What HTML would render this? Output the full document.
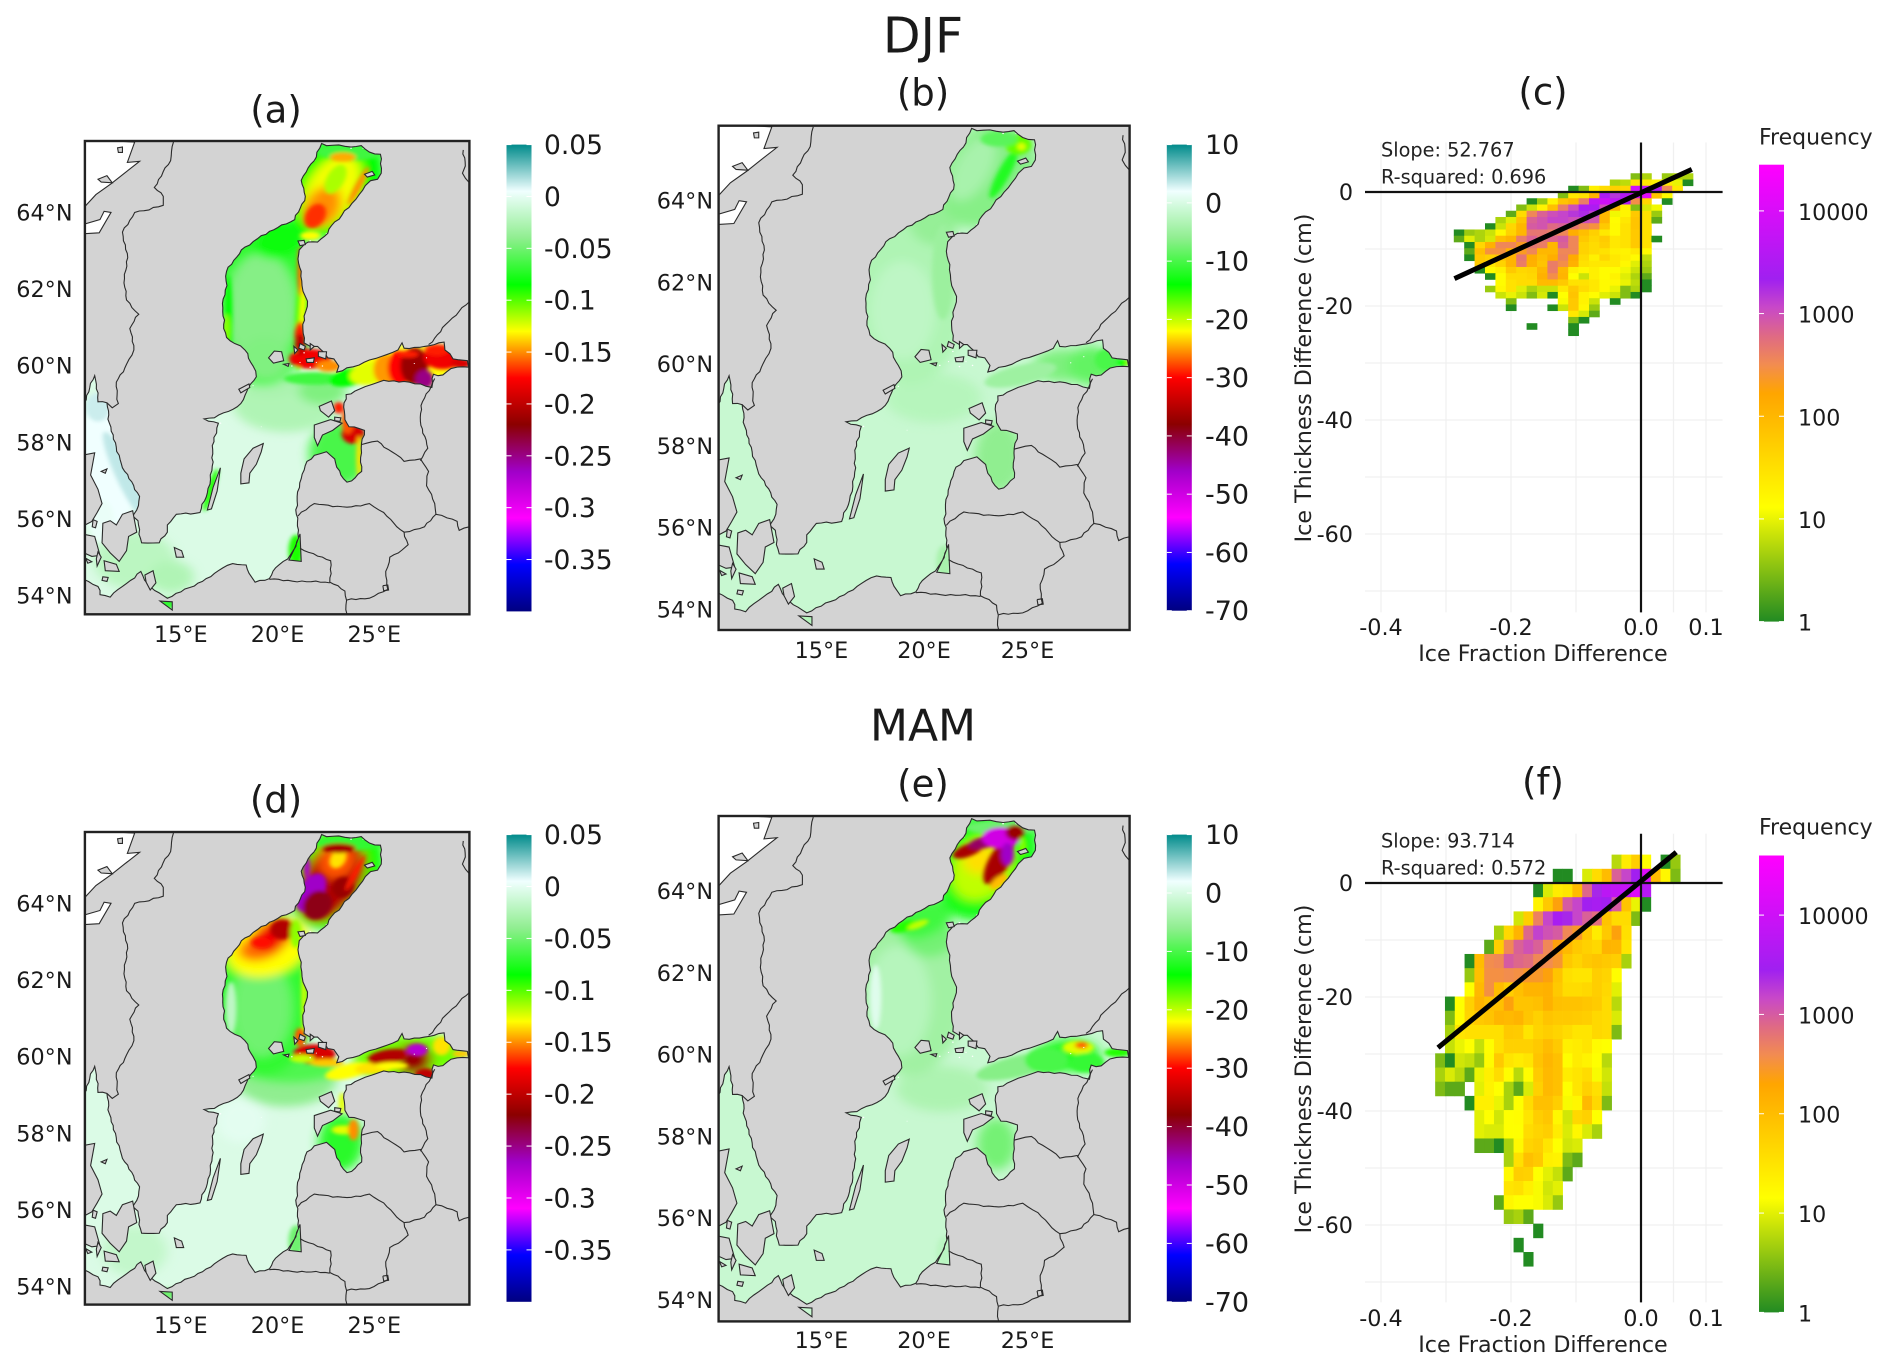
<!DOCTYPE html>
<html lang="en">
<head>
<meta charset="utf-8">
<title>Baltic sea ice differences DJF and MAM</title>
<style>
html,body{margin:0;padding:0;background:#fff;}
svg{display:block;}
text{font-family:"DejaVu Sans","Liberation Sans",sans-serif;fill:#1a1a1a;}
.panel{font-size:37px;text-anchor:middle;dominant-baseline:central;}
.axt{font-size:22.2px;text-anchor:middle;dominant-baseline:central;fill:#222;}
.ann{font-size:19.3px;dominant-baseline:central;fill:#222;}
.leg{font-size:22px;dominant-baseline:central;fill:#222;}
</style>
</head>
<body>
<svg id="figure" width="1892" height="1372" viewBox="0 0 1892 1372" xmlns="http://www.w3.org/2000/svg">
  <rect width="1892" height="1372" fill="#fff"/>
  <defs id="defs"></defs>
  <text x="923" y="36" font-size="49" text-anchor="middle" dominant-baseline="central">DJF</text>
  <text x="923" y="726" font-size="44" text-anchor="middle" dominant-baseline="central">MAM</text>
  <text class="panel" x="276" y="110">(a)</text>
  <text class="panel" x="923" y="93">(b)</text>
  <text class="panel" x="1543" y="92">(c)</text>
  <text class="panel" x="276" y="800">(d)</text>
  <text class="panel" x="923" y="784">(e)</text>
  <text class="panel" x="1543" y="782">(f)</text>
  <g id="maps"></g>
  <g id="hist-c"></g>
  <g id="hist-f"></g>
  <text class="axt" x="1543" y="654">Ice Fraction Difference</text>
  <text class="axt" x="1304" y="378" transform="rotate(-90 1304 378)">Ice Thickness Difference (cm)</text>
  <text class="ann" x="1381" y="150">Slope: 52.767</text>
  <text class="ann" x="1381" y="177">R-squared: 0.696</text>
  <text class="leg" x="1759" y="138">Frequency</text>
  <text class="axt" x="1543" y="1345">Ice Fraction Difference</text>
  <text class="axt" x="1304" y="1069" transform="rotate(-90 1304 1069)">Ice Thickness Difference (cm)</text>
  <text class="ann" x="1381" y="841">Slope: 93.714</text>
  <text class="ann" x="1381" y="868">R-squared: 0.572</text>
  <text class="leg" x="1759" y="828">Frequency</text>
</svg>
<script>
/* ---------- histogram data (panel c) ---------- */
const cFractionTicks = [-0.4, -0.2, 0.0, 0.1];
const cThicknessTicks = [0, -20, -40, -60];
const cFrequencyTicks = [1, 10, 100, 1000, 10000];
const cFirstThicknessBin = -3;
const cFirstFractionBin = [-1,-3,-7,-8,-11,-12,-13,-14,-15,-18,-18,-17,-17,-17,-16,-16,-15,-14,-15,-14,-13,-13,-7,-7,-11,-7];
const cCounts = [
[3,5,0,4,5,5],
[5,6,30,25,18,25,10,1],
[1,3,20,35,50,40,8000,5000,3000,350,25],
[3,25,30,110,3000,1500,3500,9000,12000,70,15],
[1,4,18,70,100,420,5000,7000,5000,3000,300,40,0,1],
[3,7,18,80,420,1000,3000,3000,1000,100,17,3,8,11],
[2,35,350,700,1000,1200,1500,1800,1300,100,11,17,60,30,4],
[5,9,70,700,900,1200,1200,1000,1000,900,100,14,25,70,30,2],
[1,7,40,100,800,900,600,700,480,350,280,60,15,30,70,30],
[1,4,5,7,16,45,100,480,480,420,350,130,80,50,25,15,30,60,30],
[2,9,5,8,80,110,420,700,480,650,800,350,60,40,55,25,30,60,30,1],
[1,40,120,350,350,220,480,420,100,700,350,45,35,50,25,30,60,30],
[2,80,280,280,120,220,350,100,100,350,350,45,35,30,20,18,25,15],
[1,60,50,70,110,480,130,80,130,380,140,35,20,40,25,20,15,6],
[60,25,45,110,420,120,70,420,300,120,30,25,25,25,16,9,5],
[1,14,20,60,40,45,100,420,100,20,16,20,14,14,11,7,4],
[1,14,35,35,40,120,300,110,13,7,20,14,18,9,5,2],
[14,30,35,35,90,90,60,30,30,25,15,16,10,6,1],
[4,16,30,9,5,7,7,25,60,35,25,15,10,3,5,1],
[7,10,7,3,8,1,13,70,18,14,9,7,3,1],
[3,0,0,0,0,12,60,18,7,0,1],
[1,0,0,0,1,7,60,16,4],
[25,8,2],
[3,1],
[1,0,0,0,1],
[1]
];
const cFitLine = [[-0.287,-15.2],[0.0782,3.97]];

/* ---------- histogram data (panel f) ---------- */
const fFirstThicknessBin = -2;
const fFirstFractionBin = [-3,-9,-11,-11,-13,-15,-16,-18,-18,-18,-20,-20,-20,-20,-21,-21,-21,-18,-17,-17,-17,-14,-14,-14,-15,-14,-11,-13,-12];
const fCounts = [
[6,25,60,15,0,1,4],
[1,1,0,9,40,100,900,1500,3000,15000,100,18,3],
[1,9,25,30,100,800,2500,6000,7000,8000,15000,5000],
[20,70,220,1000,1500,3000,3500,3000,1000,80,11,1],
[8,60,480,1500,3500,2500,1500,900,700,80,40,40,3],
[5,45,130,800,1600,1200,1000,420,280,70,25,70,220,35],
[2,60,420,900,1200,900,420,220,110,70,55,45,130,120,30],
[1,100,380,420,1000,800,700,420,380,300,70,50,70,80,70,60,5],
[4,90,350,350,380,350,280,280,220,80,35,30,30,60,50,15],
[14,110,350,100,60,90,130,130,140,70,40,40,45,60,45,10],
[1,14,55,130,90,90,220,80,80,90,140,90,85,85,75,65,40,6],
[3,15,50,70,80,120,110,130,75,55,80,70,70,65,60,45,40,9],
[5,30,35,35,35,35,70,65,30,50,60,50,40,30,30,45,40,3],
[7,11,14,7,15,35,55,55,55,70,100,70,22,25,30,16,14],
[3,1,8,7,4,16,70,30,25,30,80,120,90,15,25,20,14,6],
[5,9,6,2,11,22,40,15,6,15,65,110,90,25,30,40,13,8],
[3,2,2,0,10,20,14,5,2,9,55,110,90,14,30,55,35,7],
[1,22,22,11,5,14,40,90,90,60,13,18,110,45,3],
[10,14,8,14,15,30,60,75,18,8,45,55,14],
[10,9,9,14,14,40,50,60,25,9,18,9,5],
[2,2,1,5,17,50,60,30,14,8,9],
[5,35,90,70,22,20,3,2],
[17,60,55,14,10,7,2],
[30,35,22,13,8,10],
[2,18,14,14,13,9,4],
[4,5,2],
[1],
[1],
[1]
];
const fFitLine = [[-0.3123,-28.9],[0.0542,5.4]];
const fractionGrid = [-0.4,-0.3,-0.2,-0.1,0,0.05,0.1];
const thicknessGrid = [0,-10,-20,-30,-40,-50,-60,-70];
const frequencyColors = ["#228b22","#ffff00","#ffa500","#f28c50","#df6a84","#c848c8","#a020f0","#ff00ff"];
const frequencyOffsets = [0,0.25,0.5,0.5625,0.625,0.6875,0.75,1];

/* ---------- map colour scale and labels ---------- */
const mapColors = ["#008b8b","#f0ffff","#90ee90","#00ff00","#ffff00","#ff0000","#8b0000","#a000c8","#ff00ff","#0000ff","#000080"];
const fractionLabels = ["0.05","0","-0.05","-0.1","-0.15","-0.2","-0.25","-0.3","-0.35"];
const fractionValues = [0.05,0,-0.05,-0.1,-0.15,-0.2,-0.25,-0.3,-0.35];
const thicknessLabels = ["10","0","-10","-20","-30","-40","-50","-60","-70"];
const thicknessValues = [10,0,-10,-20,-30,-40,-50,-60,-70];
const latLabels = ["64°N","62°N","60°N","58°N","56°N","54°N"];
const lonLabels = ["15°E","20°E","25°E"];

/* ---------- map geometry, in shared map units ---------- */
const seaOutline = [[788,122],[800,128],[830,126],[860,132],[885,128],[905,146],[932,152],[934,205],[925,222],[908,226],[895,240],[880,265],[862,290],[838,322],[812,352],[795,382],[778,398],[755,398],[745,405],[733,420],[730,445],[738,480],[740,520],[748,550],[753,578],[745,605],[742,640],[745,680],[760,690],[778,690],[795,708],[803,722],[818,725],[830,745],[825,762],[850,750],[880,742],[905,728],[935,718],[975,700],[985,680],[990,695],[1040,690],[1075,680],[1088,678],[1090,700],[1110,725],[1145,730],[1148,748],[1120,748],[1105,752],[1085,770],[1062,768],[1058,805],[1030,795],[990,788],[940,785],[910,797],[880,810],[848,825],[842,860],[845,895],[855,915],[880,920],[893,925],[885,975],[886,1040],[870,1058],[850,1070],[835,1050],[820,1005],[800,985],[770,995],[752,1012],[738,1060],[728,1110],[726,1160],[730,1215],[725,1250],[705,1285],[675,1310],[660,1340],[625,1350],[610,1325],[603,1302],[570,1298],[535,1318],[505,1340],[465,1365],[410,1395],[390,1380],[362,1355],[345,1320],[320,1345],[300,1362],[270,1392],[245,1385],[240,1362],[205,1342],[205,850],[232,772],[240,845],[262,848],[268,905],[283,960],[300,1030],[342,1110],[335,1148],[325,1165],[338,1178],[347,1240],[390,1240],[410,1210],[410,1190],[432,1160],[490,1155],[508,1100],[520,1025],[524,945],[535,905],[500,893],[525,890],[560,872],[590,850],[605,815],[628,775],[620,745],[600,700],[575,682],[555,665],[548,640],[545,570],[556,520],[555,480],[580,440],[600,412],[640,380],[690,350],[722,335],[748,270],[738,225],[755,190],[775,160]];
const lagoons = [
[[735,1215],[738,1292],[708,1288],[722,1255]],
[[392,1403],[422,1405],[422,1428]]
];
const islands = [
[[200,995],[232,988],[222,1050],[240,1090],[250,1130],[238,1155],[225,1180],[200,1195]],
[[252,1185],[270,1178],[285,1190],[300,1160],[325,1150],[335,1210],[315,1222],[310,1262],[292,1292],[270,1268],[250,1240]],
[[200,1215],[232,1222],[245,1275],[225,1278],[200,1265]],
[[255,1290],[285,1300],[292,1320],[258,1318]],
[[228,1175],[238,1180],[234,1198],[226,1195]],
[[248,1040],[262,1033],[258,1045]],
[[252,1335],[265,1337],[262,1348],[250,1345]],
[[240,1265],[248,1280],[238,1305],[236,1285]],
[[210,1283],[225,1293],[215,1297]],
[[355,1330],[375,1318],[382,1352],[368,1372],[358,1350]],
[[427,1253],[445,1262],[450,1280],[432,1280]],
[[645,962],[620,975],[598,1005],[590,1045],[590,1075],[610,1072],[612,1045],[628,1020],[640,985]],
[[540,1030],[522,1085],[508,1148],[518,1145],[532,1095]],
[[770,910],[810,895],[838,905],[815,925],[790,938],[778,968],[770,945]],
[[782,858],[812,843],[820,870],[805,888],[785,870]],
[[820,888],[835,890],[833,900],[820,898]],
[[658,722],[672,703],[690,705],[695,730],[670,737]],
[[695,740],[708,738],[706,746]],
[[735,682],[748,690],[745,700],[732,695]],
[[760,682],[770,690],[760,700]],
[[780,705],[800,705],[798,725],[780,718]],
[[750,725],[770,722],[768,735],[752,735]],
[[720,690],[730,700],[722,710]],
[[893,208],[912,200],[918,210],[900,216]],
[[730,395],[745,393],[748,405],[735,408]],
[[585,810],[610,795],[612,805],[590,820]]
];
const whiteWaters = [
[[200,110],[330,118],[312,175],[342,172],[305,205],[272,235],[235,265],[205,302]],
[[200,375],[243,372],[272,315],[255,312],[245,335],[200,350]]
];
const whiteIslands = [
[[288,134],[300,132],[300,147],[290,147]],
[[240,222],[262,212],[275,232],[248,230]]
];
const borderLines = [
[[425,118],[418,170],[378,245],[400,270],[400,295],[365,308],[330,315],[300,370],[312,430],[305,500],[310,560],[340,600],[318,640],[328,700],[310,740],[285,790],[290,850],[275,862],[262,848]],
[[1150,565],[1100,620],[1050,685]],
[[1065,780],[1035,845],[1030,900],[1048,975],[1030,1010]],
[[885,965],[925,955],[960,985],[990,1012],[1030,1005],[1050,1040],[1045,1080],[1065,1130],[1068,1160]],
[[730,1165],[770,1130],[850,1140],[905,1130],[940,1155],[965,1185],[990,1210],[1040,1195],[1068,1160],[1095,1170],[1120,1180],[1125,1205],[1150,1195]],
[[990,1210],[1000,1245],[985,1260],[955,1280],[945,1320],[950,1370],[905,1395],[850,1400]],
[[735,1255],[790,1280],[810,1290],[808,1350],[845,1375],[850,1440]],
[[660,1342],[808,1352]],
[[1135,140],[1140,185],[1133,205],[1150,232]],
[[938,1360],[950,1358],[952,1372],[940,1374],[938,1360]]
];
const coastSpecks = [[745,708,1.8],[760,748,1.8],[790,745,1.8],[715,745,1.8],[735,735,1.5],[775,735,1.5],[820,122,2],[860,135,2],[890,135,1.8],[770,170,2],[760,395,2],[800,375,2],[620,800,1.6],[540,905,2],[640,915,1.2],[1015,738,1.5],[1045,722,1.5]];

/* ---------- field samples: [x, y, radius-x, radius-y, tilt, value] ---------- */
const fieldA = [
[265,1020,90,190,0,0.005],[305,1050,22,130,-22,0.014],[240,860,30,40,0,0.012],[250,1180,30,60,0,0.002],
[330,1290,100,80,0,-0.02],[420,1335,55,45,0,-0.025],
[700,850,130,80,0,-0.025],[660,790,70,45,0,-0.028],[790,815,60,38,0,-0.045],[770,780,75,18,0,-0.065],
[645,560,132,240,0,-0.07],[640,590,88,160,0,-0.043],[650,725,60,60,0,-0.045],[690,390,72,50,-30,-0.08],
[560,600,9,110,0,-0.085],[738,590,13,170,3,-0.1],[742,580,6,150,3,-0.13],[735,480,6,70,0,-0.16],[555,640,7,40,0,-0.11],[735,660,13,40,0,-0.17],
[825,240,105,155,25,-0.085],[860,145,85,25,0,-0.065],
[812,255,62,110,25,-0.128],[790,300,42,60,25,-0.15],[772,325,24,36,25,-0.167],[822,222,22,44,25,-0.115],
[840,160,32,13,0,-0.145],[878,240,8,60,25,-0.15],[760,380,25,12,0,-0.13],
[760,725,52,28,0,-0.18],[735,685,13,30,0,-0.2],[805,745,30,16,0,-0.15],
[1000,745,130,60,-5,-0.13],[860,775,55,25,-15,-0.085],[905,765,50,30,-15,-0.125],[945,755,30,42,0,-0.148],[978,750,28,48,0,-0.175],
[1015,745,34,52,0,-0.215],[1040,782,22,26,0,-0.25],[1085,720,48,34,0,-0.18],[1130,738,24,14,0,-0.19],[1070,700,30,16,0,-0.17],[1000,712,26,10,0,-0.17],
[832,990,75,90,0,-0.062],[865,935,28,28,0,-0.19],[852,900,15,35,0,-0.16],[880,1000,7,60,0,-0.135],[830,862,13,16,0,-0.17],
[516,1092,9,62,15,-0.09],[725,1262,18,45,0,-0.09],[410,1410,20,16,0,-0.07]
];
const fieldB = [
[700,830,110,65,0,-2.8],[645,560,130,235,0,-3.4],[630,600,75,130,0,-2.2],[722,500,25,125,0,-5],
[700,370,55,60,-30,-5.5],[825,240,100,150,25,-6.5],[790,228,42,90,25,-4],[862,240,14,72,25,-12],
[895,165,30,26,0,-17],[902,170,10,10,0,-21],[850,150,42,20,0,-9],
[900,770,85,26,-15,-4.8],[1000,745,70,42,0,-7],[1060,745,52,50,0,-8.5],[1100,730,30,30,0,-10],[1135,738,15,10,0,-14],[1146,738,7,5,0,-19],
[850,985,55,92,0,-6],[725,1262,18,45,0,-4],[410,1410,20,16,0,-3]
];
const fieldD = [
[330,1290,80,70,0,-0.016],[700,810,125,75,0,-0.04],[710,780,120,40,0,-0.06],[590,925,60,62,0,-0.001],
[645,560,132,240,0,-0.07],[640,610,75,135,0,-0.05],[566,610,13,75,0,-0.018],[745,560,6,130,0,-0.125],
[655,438,105,80,-25,-0.13],[640,438,58,36,-20,-0.155],[668,405,55,38,-30,-0.18],[692,388,30,28,0,-0.205],[640,425,24,15,0,-0.172],[725,400,14,40,0,-0.11],
[825,240,105,155,25,-0.088],[860,145,85,22,0,-0.07],
[812,250,72,125,25,-0.205],[826,195,44,52,25,-0.16],[828,190,19,28,25,-0.135],
[762,285,32,58,25,-0.265],[778,320,34,42,25,-0.225],[830,160,42,14,0,-0.21],[752,215,8,30,0,-0.27],[840,270,26,30,25,-0.215],[870,230,7,55,25,-0.17],
[770,738,52,28,0,-0.19],[735,690,13,26,0,-0.16],[800,762,42,11,0,-0.14],[740,750,30,11,0,-0.12],
[1000,745,135,62,-5,-0.105],[855,785,60,20,-15,-0.13],[920,775,50,18,-8,-0.135],[950,745,50,20,-10,-0.205],[1012,752,46,42,0,-0.215],
[1022,726,26,18,0,-0.275],[1042,795,26,18,0,-0.2],[1082,715,22,26,0,-0.135],[1130,737,22,9,0,-0.14],[960,770,40,10,0,-0.13],
[835,985,55,80,0,-0.072],[842,950,30,13,0,-0.125],[866,950,13,30,0,-0.15],[838,875,8,30,0,-0.125],
[725,1262,18,45,0,-0.05],[410,1410,20,16,0,-0.05]
];
const fieldE = [
[720,830,105,60,0,-3.6],[645,560,130,235,0,-4.6],[620,600,75,145,0,-2.8],[568,590,13,85,0,0.6],[690,430,60,55,0,-7.5],
[680,385,72,45,-30,-10.5],[632,405,32,13,-20,-15],[665,400,26,9,-25,-20],
[825,240,105,155,25,-13],[860,145,85,20,0,-8],[770,322,44,48,25,-13],
[812,250,66,90,25,-20],[805,228,38,40,0,-23],[850,235,24,65,25,-36],[780,205,38,16,-25,-36],[815,185,36,15,-15,-42],
[855,172,44,28,0,-50],[870,215,15,30,0,-46],[888,158,22,20,0,-37],[905,195,9,26,0,-18],[850,288,26,12,-45,-24],
[900,770,105,28,-15,-6.5],[960,755,50,34,0,-10],[1010,742,72,42,0,-12],[1032,722,36,18,0,-21],[1040,716,15,9,0,-27],[1052,762,40,26,0,-11],[1122,735,30,12,0,-15],
[845,975,45,68,0,-7.5],[725,1262,18,45,0,-2.5]
];

/* ---------- layout (pixels) ---------- */
const mapPanels = [
 {id:"a",x0:84.9,x1:469.4,y0:141,y1:614.3,field:fieldA,base:-0.005,kind:"f",barX:506.5,barW:25,barY0:144.6,barY1:611.4,labX:544,latX:72.5,latY0:213.6,latStep:76.55,lonX:[180.8,277.6,374.3],lonY:635},
 {id:"b",x0:718.6,x1:1129.6,y0:125.7,y1:630,field:fieldB,base:-1.3,kind:"t",barX:1166.8,barW:25,barY0:144.6,barY1:610.7,labX:1205,latX:713,latY0:201.5,latStep:81.8,lonX:[821.4,924,1027.5],lonY:651},
 {id:"d",x0:84.9,x1:469.4,y0:832,y1:1304.6,field:fieldD,base:-0.005,kind:"f",barX:506.5,barW:25,barY0:834.6,barY1:1301.8,labX:544,latX:72.5,latY0:904.6,latStep:76.55,lonX:[180.8,277.6,374.3],lonY:1326},
 {id:"e",x0:718.6,x1:1129.6,y0:816,y1:1321.4,field:fieldE,base:-1.3,kind:"t",barX:1166.8,barW:25,barY0:834.6,barY1:1301.8,labX:1205,latX:713,latY0:892,latStep:81.8,lonX:[821.4,924,1027.5],lonY:1341}
];
const NS = "http://www.w3.org/2000/svg";
function mk(tag, attrs, parent){
  const el = document.createElementNS(NS, tag);
  for (const k in attrs) el.setAttribute(k, attrs[k]);
  if (parent) parent.appendChild(el);
  return el;
}
function hex2rgb(h){return [1,3,5].map(i=>parseInt(h.substr(i,2),16));}
function mix(c0,c1,f){
  const a=hex2rgb(c0), b=hex2rgb(c1);
  return "rgb("+a.map((v,n)=>Math.round(v+(b[n]-v)*f)).join(",")+")";
}
function ramp(colors,t){
  t=Math.max(0,Math.min(1,t));
  const p=t*(colors.length-1), i=Math.min(colors.length-2,Math.floor(p));
  return mix(colors[i],colors[i+1],p-i);
}
function freqColor(t){
  t=Math.max(0,Math.min(1,t));
  let i=0;
  while(i<frequencyOffsets.length-2 && t>frequencyOffsets[i+1]) i++;
  return mix(frequencyColors[i],frequencyColors[i+1],(t-frequencyOffsets[i])/(frequencyOffsets[i+1]-frequencyOffsets[i]));
}
function mapColor(kind,v){
  return ramp(mapColors, kind==="f" ? (0.05-v)/0.45 : (10-v)/80);
}
/* roughen straight runs so coasts and borders read as natural lines */
function jag(poly,amp,closed){
  const out=[];
  const n=poly.length;
  const last=closed?n:n-1;
  for(let i=0;i<last;i++){
    const a=poly[i], b=poly[(i+1)%n];
    out.push(a);
    const dx=b[0]-a[0], dy=b[1]-a[1], L=Math.hypot(dx,dy);
    const steps=Math.floor(L/11);
    for(let j=1;j<steps;j++){
      const f=j/steps;
      const d=amp*Math.sin(a[0]*0.7+j*2.3)*Math.cos(a[1]*0.5+j*1.7);
      out.push([+(a[0]+dx*f-dy/L*d).toFixed(1),+(a[1]+dy*f+dx/L*d).toFixed(1)]);
    }
  }
  if(!closed) out.push(poly[n-1]);
  return out;
}
function pts(p){return p.map(q=>q.join(",")).join(" ");}
function pathOf(polys){return polys.map(p=>"M"+p.map(q=>q.join(",")).join("L")+"Z").join("");}

const defs = document.getElementById("defs");
const blur = mk("filter",{id:"fieldBlur",filterUnits:"userSpaceOnUse",x:150,y:60,width:1060,height:1440},defs);
mk("feGaussianBlur",{stdDeviation:5},blur);
const blurWide = mk("filter",{id:"fieldBlurWide",filterUnits:"userSpaceOnUse",x:150,y:60,width:1060,height:1440},defs);
mk("feGaussianBlur",{stdDeviation:13},blurWide);
const seaClip = mk("clipPath",{id:"seaClip"},defs);
const seaPath = pathOf([jag(seaOutline,3.2,true)].concat(lagoons));
mk("path",{d:seaPath},seaClip);
const roughBorders = borderLines.map(b=>jag(b,3,false));

const mapsRoot = document.getElementById("maps");
mapPanels.forEach(function(P){
  const root = mk("g",{},mapsRoot);
  
  
  const frameClip = mk("clipPath",{id:"frame"+P.id},defs);
  mk("rect",{x:P.x0,y:P.y0,width:P.x1-P.x0,height:P.y1-P.y0},frameClip);
  const clipG = mk("g",{"clip-path":"url(#frame"+P.id+")"},root);
  const land = mk("rect",{x:P.x0,y:P.y0,width:P.x1-P.x0,height:P.y1-P.y0,fill:"#d3d3d3"},clipG);
  
  
  const sx=(P.x1-P.x0)/942, sy=(P.y1-P.y0)/1325;
  const g = mk("g",{transform:"translate("+P.x0+","+P.y0+") scale("+sx+","+sy+") translate(-208,-115)"},clipG);
  whiteWaters.forEach(function(w){
    const el = mk("polygon",{points:pts(w),fill:"#fff",stroke:"#2b2b2b","stroke-width":1.1,"vector-effect":"non-scaling-stroke"},g);
    
    
  });
  whiteIslands.forEach(function(w){
    mk("polygon",{points:pts(w),fill:"#d3d3d3",stroke:"#2b2b2b","stroke-width":1.1,"vector-effect":"non-scaling-stroke"},g);
  });
  const seaG = mk("g",{"clip-path":"url(#seaClip)"},g);
  
  
  mk("rect",{x:150,y:60,width:1060,height:1440,fill:mapColor(P.kind,P.base)},seaG);
  const wideG = mk("g",{filter:"url(#fieldBlurWide)"},seaG);
  const fieldG = mk("g",{filter:"url(#fieldBlur)"},seaG);
  P.field.forEach(function(s){
    const target = Math.min(s[2],s[3])>=35 ? wideG : fieldG;
    mk("ellipse",{cx:0,cy:0,rx:s[2],ry:s[3],fill:mapColor(P.kind,s[5]),
      transform:"translate("+s[0]+","+s[1]+") rotate("+s[4]+")"},target);
  });
  coastSpecks.forEach(function(c){
    mk("circle",{cx:c[0],cy:c[1],r:c[2],fill:"#fff"},seaG);
  });
  const coast = mk("path",{d:seaPath,fill:"none",stroke:"#2b2b2b","stroke-width":1.1,"vector-effect":"non-scaling-stroke"},g);
  
  
  islands.forEach(function(w){
    mk("polygon",{points:pts(w),fill:"#d3d3d3",stroke:"#2b2b2b","stroke-width":1.1,"vector-effect":"non-scaling-stroke"},g);
  });
  roughBorders.forEach(function(w){
    const el = mk("polyline",{points:pts(w),fill:"none",stroke:"#2b2b2b","stroke-width":1.1,"vector-effect":"non-scaling-stroke"},g);
    
    
  });
  const frame = mk("rect",{x:P.x0,y:P.y0,width:P.x1-P.x0,height:P.y1-P.y0,fill:"none",stroke:"#222",
    "stroke-width":2.4},root);
  
  
  latLabels.forEach(function(t,i){
    const el = mk("text",{x:P.latX,y:P.latY0+i*P.latStep,"text-anchor":"end","dominant-baseline":"central","font-size":22.3,fill:"#222"},root);
    el.textContent=t;
    
    
  });
  lonLabels.forEach(function(t,i){
    const el = mk("text",{x:P.lonX[i],y:P.lonY,"text-anchor":"middle","dominant-baseline":"central","font-size":22.3,fill:"#222"},root);
    el.textContent=t;
    
    
  });
  /* colour bar */
  const gid="mapBar"+P.id;
  const grad = mk("linearGradient",{id:gid,x1:0,y1:0,x2:0,y2:1},defs);
  mapColors.forEach(function(c,i){
    mk("stop",{offset:i/(mapColors.length-1),"stop-color":c},grad);
  });
  const bar = mk("rect",{x:P.barX,y:P.barY0,width:P.barW,height:P.barY1-P.barY0,fill:"url(#"+gid+")"},root);
  
  
  const vals = P.kind==="f"?fractionValues:thicknessValues;
  const labs = P.kind==="f"?fractionLabels:thicknessLabels;
  const span = P.kind==="f"?0.45:80, top = P.kind==="f"?0.05:10;
  vals.forEach(function(v,i){
    const y=P.barY0+(top-v)/span*(P.barY1-P.barY0);
    mk("line",{x1:P.barX,x2:P.barX+5,y1:y,y2:y,stroke:"#fff","stroke-width":1},root);
    mk("line",{x1:P.barX+P.barW-5,x2:P.barX+P.barW,y1:y,y2:y,stroke:"#fff","stroke-width":1},root);
    const el = mk("text",{x:P.labX,y:y+1,"dominant-baseline":"central","font-size":P.kind==="f"?26.5:27,fill:"#111"},root);
    el.textContent=labs[i];
    
    
  });
});

/* ---------- histograms ---------- */
function drawHist(cfg){
  const root=document.getElementById(cfg.root);
  const xS=v=>cfg.x0+650*v, yS=v=>cfg.y0-5.7*v;
  const gridG=mk("g",{},root);
  
  
  fractionGrid.forEach(function(v){
    mk("line",{x1:xS(v),x2:xS(v),y1:cfg.top,y2:cfg.bottom,stroke:"#f0f0f0","stroke-width":1.3},gridG);
  });
  thicknessGrid.forEach(function(v){
    mk("line",{x1:cfg.left,x2:cfg.right,y1:yS(v),y2:yS(v),stroke:"#f0f0f0","stroke-width":1.3},gridG);
  });
  const cells=mk("g",{},root);
  
  
  cfg.counts.forEach(function(row,ri){
    const r=cfg.firstRow+ri;
    row.forEach(function(n,ci){
      if(!n) return;
      const k=cfg.firstCols[ri]+ci;
      const rect=mk("rect",{x:xS(k*cfg.binX),y:yS(-r*cfg.binY),width:650*cfg.binX+0.35,height:5.7*cfg.binY+0.35,
        fill:freqColor(Math.log10(n)/cfg.logMax)},cells);
      
      
    });
  });
  const v=mk("line",{x1:xS(0),x2:xS(0),y1:cfg.top,y2:cfg.bottom,stroke:"#111","stroke-width":2.2},root);
  
  
  const h=mk("line",{x1:cfg.left,x2:cfg.right,y1:yS(0),y2:yS(0),stroke:"#111","stroke-width":2.2},root);
  
  
  const fit=mk("line",{x1:xS(cfg.fit[0][0]),y1:yS(cfg.fit[0][1]),x2:xS(cfg.fit[1][0]),y2:yS(cfg.fit[1][1]),stroke:"#000","stroke-width":5},root);
  
  
  cFractionTicks.forEach(function(t){
    const el=mk("text",{x:xS(t),y:cfg.xLabY,"text-anchor":"middle","dominant-baseline":"central","font-size":22.3,fill:"#222"},root);
    el.textContent=t.toFixed(1);
    
    
  });
  cThicknessTicks.forEach(function(t){
    const el=mk("text",{x:1353,y:yS(t)+1,"text-anchor":"end","dominant-baseline":"central","font-size":22.3,fill:"#222"},root);
    el.textContent=String(t);
    
    
  });
  const gid="freq"+cfg.root;
  const grad=mk("linearGradient",{id:gid,x1:0,y1:1,x2:0,y2:0},defs);
  frequencyColors.forEach(function(c,i){
    mk("stop",{offset:frequencyOffsets[i],"stop-color":c},grad);
  });
  const bar=mk("rect",{x:1759,y:cfg.barTop,width:25,height:cfg.barBottom-cfg.barTop,fill:"url(#"+gid+")"},root);
  
  
  cFrequencyTicks.forEach(function(f){
    const y=cfg.barBottom-Math.log10(f)/cfg.logMax*(cfg.barBottom-cfg.barTop);
    mk("line",{x1:1759,x2:1764,y1:y,y2:y,stroke:"#fff","stroke-width":1},root);
    mk("line",{x1:1779,x2:1784,y1:y,y2:y,stroke:"#fff","stroke-width":1},root);
    const el=mk("text",{x:1798,y:y+2,"dominant-baseline":"central","font-size":22.2,fill:"#222"},root);
    el.textContent=String(f);
    
    
  });
}
drawHist({root:"hist-c",x0:1641,y0:192,top:142.5,bottom:612.4,left:1365,right:1722.6,binX:0.016,binY:1.096,
  firstRow:cFirstThicknessBin,firstCols:cFirstFractionBin,counts:cCounts,logMax:4.45,fit:cFitLine,xLabY:628,barTop:164.7,barBottom:621.6});
drawHist({root:"hist-f",x0:1641,y0:883,top:833.7,bottom:1302.4,left:1365,right:1722.6,binX:0.01508,binY:2.49,
  firstRow:fFirstThicknessBin,firstCols:fFirstFractionBin,counts:fCounts,logMax:4.6,fit:fFitLine,xLabY:1319,barTop:855.5,barBottom:1312.4});
</script>
</body>
</html>
